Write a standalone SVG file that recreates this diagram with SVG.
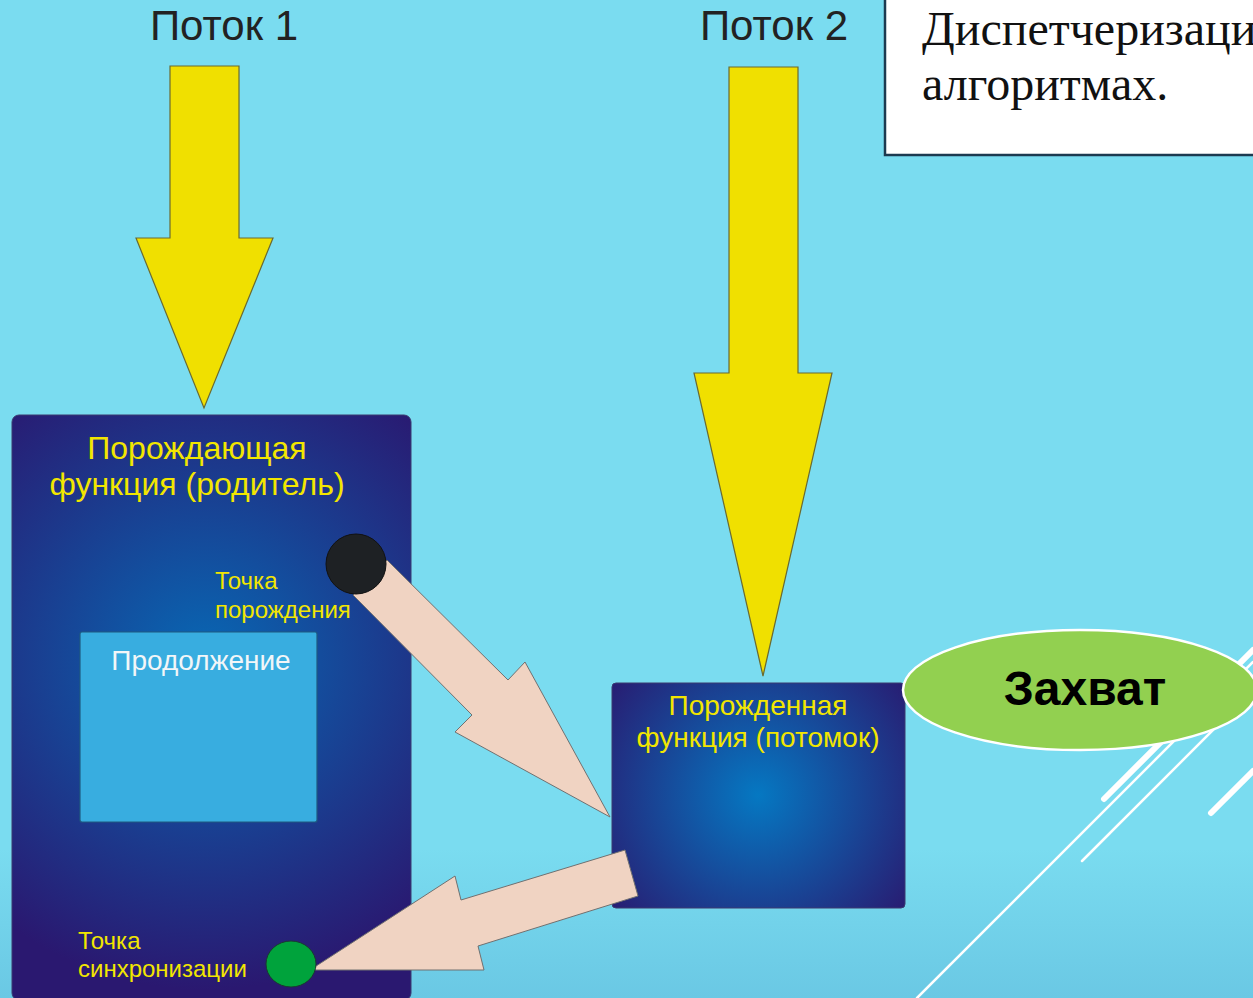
<svg xmlns="http://www.w3.org/2000/svg" width="1253" height="998" viewBox="0 0 1253 998">
<defs>
<radialGradient id="gParent" gradientUnits="userSpaceOnUse" cx="205" cy="660" r="330">
<stop offset="0" stop-color="#0868B4"/><stop offset="1" stop-color="#2A1870"/>
</radialGradient>
<radialGradient id="gChild" gradientUnits="userSpaceOnUse" cx="758" cy="795" r="190">
<stop offset="0" stop-color="#0578C2"/><stop offset="1" stop-color="#291A70"/>
</radialGradient>
<linearGradient id="gBg" x1="0" y1="0" x2="0" y2="1">
<stop offset="0.85" stop-color="#7ADCF0"/><stop offset="1" stop-color="#6AC8E4"/>
</linearGradient>
<style>
.lbl{font-family:"Liberation Sans",Arial,sans-serif;fill:#F2E600}
.yarrow{fill:#F0E000;stroke:#6A6A30;stroke-width:1.2}
.parrow{fill:#F0D3C2;stroke:#707070;stroke-width:1}
.deco{stroke:#FFFFFF;fill:none;stroke-linecap:round}
</style>
</defs>
<rect x="0" y="0" width="1253" height="998" fill="url(#gBg)"/>

<g id="decoration">
<line class="deco" x1="917" y1="998" x2="1253" y2="662" stroke-width="2.5"/>
<line class="deco" x1="1082" y1="861" x2="1253" y2="690" stroke-width="2.5"/>
<line class="deco" x1="1104" y1="799" x2="1253" y2="650" stroke-width="6"/>
<line class="deco" x1="1211" y1="813" x2="1253" y2="771" stroke-width="6"/>
</g>

<g id="title-box">
<rect x="885" y="-3" width="372" height="158" fill="#FFFFFF" stroke="#1C3A50" stroke-width="2.5"/>
<text x="922" y="45" font-family="'Liberation Serif','Times New Roman',serif" font-size="48" fill="#111">Диспетчеризаци</text>
<text x="922" y="100" font-family="'Liberation Serif','Times New Roman',serif" font-size="48" fill="#111">алгоритмах.</text>
</g>

<g id="thread1">
<text x="224" y="40" text-anchor="middle" font-family="'Liberation Sans',Arial,sans-serif" font-size="42" fill="#222">Поток 1</text>
</g>
<g id="thread2">
<text x="774" y="40" text-anchor="middle" font-family="'Liberation Sans',Arial,sans-serif" font-size="42" fill="#222">Поток 2</text>
</g>

<g id="parent">
<rect x="12" y="415" width="399" height="585" rx="7" fill="url(#gParent)" stroke="#3A3A70" stroke-width="1"/>
<text class="lbl" x="197" y="459" text-anchor="middle" font-size="32">Порождающая</text>
<text class="lbl" x="197" y="495" text-anchor="middle" font-size="32">функция (родитель)</text>
</g>

<g id="continuation">
<rect x="80" y="632" width="237" height="190" rx="2" fill="#38ADE0" stroke="#1E5A80" stroke-width="1.2"/>
<text x="201" y="670" text-anchor="middle" font-family="'Liberation Sans',Arial,sans-serif" font-size="28" fill="#F2F6F8">Продолжение</text>
</g>

<g id="child">
<rect x="612" y="683" width="293" height="225" rx="4" fill="url(#gChild)" stroke="#3A3A70" stroke-width="1"/>
<text class="lbl" x="758" y="715" text-anchor="middle" font-size="28">Порожденная</text>
<text class="lbl" x="758" y="747" text-anchor="middle" font-size="28">функция (потомок)</text>
</g>

<g id="connectors">
<polygon class="yarrow" points="170,66 239,66 239,238 273,238 204,408 136,238 170,238"/>
<polygon class="yarrow" points="729,67 798,67 798,373 832,373 763,676 694,373 729,373"/>
<polygon class="parrow" points="387,560 508,680 525,662 610,817 455,732 472,715 353,595"/>
<polygon class="parrow" points="625,850 638,896 478,946 484,970 310,970 455,876 461,900"/>
</g>

<g id="spawn-point">
<circle cx="356" cy="564" r="30" fill="#1E2124" stroke="#111" stroke-width="1"/>
<text class="lbl" x="215" y="589" font-size="24">Точка</text>
<text class="lbl" x="215" y="618" font-size="24">порождения</text>
</g>

<g id="sync-point">
<ellipse cx="291" cy="964" rx="25" ry="23" fill="#00A33C" stroke="#1A3A30" stroke-width="1"/>
<text class="lbl" x="78" y="949" font-size="24">Точка</text>
<text class="lbl" x="78" y="977" font-size="24">синхронизации</text>
</g>

<g id="capture">
<ellipse cx="1080" cy="690" rx="177" ry="60" fill="#92D050" stroke="#FFFFFF" stroke-width="2.5"/>
<text x="1085" y="705" text-anchor="middle" font-family="'Liberation Sans',Arial,sans-serif" font-weight="bold" font-size="48" fill="#000">Захват</text>
</g>
</svg>
